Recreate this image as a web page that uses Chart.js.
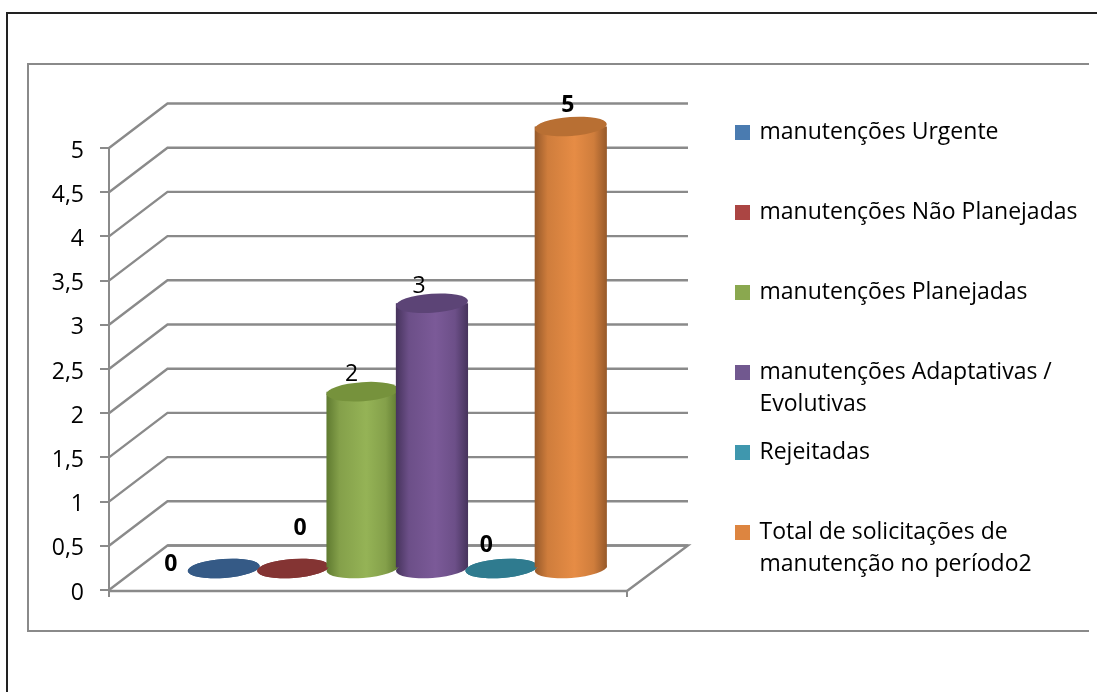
<!DOCTYPE html>
<html>
<head>
<meta charset="utf-8">
<title>Manutenções</title>
<script src="https://cdn.jsdelivr.net/npm/chart.js@4/dist/chart.umd.min.js"></script>
<style>
  html, body { margin: 0; padding: 0; background: #fff; }
  canvas { display: block; }
</style>
</head>
<body>
<canvas id="chart" width="1097" height="692"></canvas>
<script>
// data
const categories = [''];
const seriesNames = [
  ['manutenções Urgente', ''],
  ['manutenções Não Planejadas', ''],
  ['manutenções Planejadas', ''],
  ['manutenções Adaptativas /', 'Evolutivas'],
  ['Rejeitadas', ''],
  ['Total de solicitações de', 'manutenção no período2']
];
const seriesValues = [0, 0, 2, 3, 0, 5];
const yTicks = [0, 0.5, 1, 1.5, 2, 2.5, 3, 3.5, 4, 4.5, 5];

// styles
const legendColors = ['#4a7bb0', '#ab4543', '#8aa84f', '#71588f', '#3f97ae', '#dd8540'];
const topColors = ['#355a86', '#843433', '#76923c', '#5c4476', '#2f7b8f', '#b86f33'];
const edgeColors = ['#2c4a6e', '#6e2b2a', '#5f7a30', '#46335c', '#266577', '#96592a'];
const shoulderColors = ['#3f6ca0', '#9c4542', '#84a04a', '#6c4f88', '#3c8ca2', '#cf7d3c'];
const midColors = ['#4a7ebb', '#b5514e', '#95b356', '#7b5a98', '#46a0b8', '#e68c45'];
const labelPlace = [
  { dx: -53, dy: -3, bold: true },
  { dx: 7, dy: -39, bold: true },
  { dx: -11, dy: -16, bold: false },
  { dx: -13, dy: -16, bold: false },
  { dx: -15, dy: -22, bold: true },
  { dx: -3, dy: -20, bold: true }
];

const gray = '#8a8a8a';
const depthX = 58.5;
const depthY = -44.5;
const backExtra = 2.5;
const fontName = '"Open Sans", sans-serif';

function line(ctx, pts, color, width) {
  ctx.beginPath();
  pts.forEach(function (p, i) {
    if (i === 0) ctx.moveTo(p[0], p[1]);
    else ctx.lineTo(p[0], p[1]);
  });
  ctx.strokeStyle = color;
  ctx.lineWidth = width;
  ctx.stroke();
}

function ellipse(ctx, x, y, rx, color) {
  ctx.beginPath();
  ctx.ellipse(x, y, rx, 9.5, -0.07, 0, Math.PI * 2);
  ctx.fillStyle = color;
  ctx.fill();
}

const cylinders = {
  id: 'cylinders',
  afterLayout: function (chart) {
    // legend sits away from the plot, like the original
    const legend = chart.legend;
    legend.maxHeight = 692;
    legend.fit();
    legend.left = 721;
    legend.right = 1097;
    legend.top = 105;
    legend.bottom = 692;
  },
  beforeDraw: function (chart) {
    const ctx = chart.ctx;
    line(ctx, [[7, 692], [7, 13], [1097, 13]], '#222', 2);
    line(ctx, [[1089, 64], [28, 64], [28, 631], [1089, 631]], gray, 2);
  },
  beforeDatasetsDraw: function (chart) {
    const ctx = chart.ctx;
    const x = chart.scales.x;
    const y = chart.scales.y;
    const backRight = x.right + depthX + backExtra;

    // back wall and side wall
    yTicks.forEach(function (t) {
      const py = y.getPixelForValue(t);
      line(ctx, [[x.left, py], [x.left + depthX, py + depthY], [backRight, py + depthY]], gray, 2.4);
    });
    const y0 = y.getPixelForValue(0);
    line(ctx, [[x.left + depthX, y0 + depthY], [backRight, y0 + depthY], [x.right, y0 + 1]], gray, 2.4);
    line(ctx, [[x.left, y0 + 1], [x.right, y0 + 1]], gray, 2.4);
    line(ctx, [[x.left, y0], [x.left, y0 + 7]], gray, 2);
    line(ctx, [[x.right, y0], [x.right, y0 + 7]], gray, 2);

    // cylinders stand half way in the depth, later series on top
    ctx.save();
    ctx.translate(depthX / 2, depthY / 2 + 0.7);
    chart.data.datasets.forEach(function (ds, i) {
      const meta = chart.getDatasetMeta(i);
      const bar = meta.data[0];
      const half = bar.width / 2;
      const grad = ctx.createLinearGradient(bar.x - half, 0, bar.x + half, 0);
      grad.addColorStop(0, edgeColors[i]);
      grad.addColorStop(0.18, shoulderColors[i]);
      grad.addColorStop(0.55, midColors[i]);
      grad.addColorStop(0.82, shoulderColors[i]);
      grad.addColorStop(1, edgeColors[i]);
      ellipse(ctx, bar.x, y0, half, seriesValues[i] > 0 ? grad : topColors[i]);
      bar.options.backgroundColor = grad;
      meta.controller.draw();
      ellipse(ctx, bar.x, bar.y, half, topColors[i]);
    });
    ctx.restore();

    // value labels
    ctx.fillStyle = '#000';
    ctx.textAlign = 'center';
    ctx.textBaseline = 'middle';
    chart.data.datasets.forEach(function (ds, i) {
      const bar = chart.getDatasetMeta(i).data[0];
      const place = labelPlace[i];
      ctx.font = (place.bold ? 'bold ' : '') + '23px ' + fontName;
      ctx.fillText(String(seriesValues[i]), bar.x + depthX / 2 + place.dx, bar.y + depthY / 2 + place.dy);
    });
    return false;
  }
};

new Chart(document.getElementById('chart'), {
  type: 'bar',
  data: {
    labels: categories,
    datasets: seriesNames.map(function (name, i) {
      return {
        label: name.join(' ').trim(),
        data: [seriesValues[i]],
        backgroundColor: legendColors[i],
        categoryPercentage: 0.804,
        barPercentage: 1.04,
        clip: false
      };
    })
  },
  plugins: [cylinders],
  options: {
    responsive: false,
    animation: false,
    events: [],
    layout: { padding: { left: 0, top: 148, right: 370, bottom: 102 } },
    scales: {
      x: {
        grid: { display: false },
        border: { display: false },
        ticks: { display: false },
        afterFit: function (s) { s.height = 0; }
      },
      y: {
        min: 0,
        max: 5,
        afterFit: function (s) { s.width = 109; },
        afterBuildTicks: function (s) { s.ticks = yTicks.map(function (v) { return { value: v }; }); },
        grid: { drawOnChartArea: false, tickLength: 9, color: gray, lineWidth: 2 },
        border: { color: gray, width: 2 },
        ticks: {
          padding: 16,
          labelOffset: 3,
          color: '#000',
          font: { family: fontName, size: 23 },
          callback: function (v) { return String(v).replace('.', ','); }
        }
      }
    },
    plugins: {
      tooltip: { enabled: false },
      legend: {
        position: 'right',
        align: 'start',
        maxWidth: 100,
        labels: {
          padding: 16,
          boxWidth: 11,
          boxHeight: 11,
          color: '#000',
          font: { family: fontName, size: 23, lineHeight: 32 / 23 },
          generateLabels: function () {
            return seriesNames.map(function (name, i) {
              return { text: name, fillStyle: legendColors[i], strokeStyle: legendColors[i], lineWidth: 4, datasetIndex: i };
            });
          }
        }
      }
    }
  }
});
</script>
</body>
</html>
